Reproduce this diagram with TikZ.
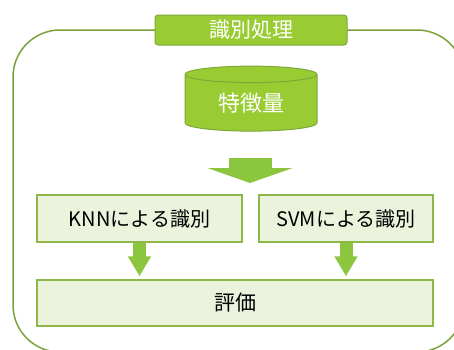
\documentclass[tikz,border=0pt]{standalone}
\usepackage{fontspec}
\setmainfont{Noto Sans CJK JP}
\usetikzlibrary{shapes.geometric,arrows.meta}

\definecolor{leafgreen}{HTML}{99CC33}
\definecolor{tabgreen}{HTML}{7DA83A}
\definecolor{framegreen}{HTML}{7AA23A}
\definecolor{boxgreen}{HTML}{8DB848}
\definecolor{paleleaf}{HTML}{EBF3DC}
\definecolor{arrowgreen}{HTML}{8CC63F}

\begin{document}
\begin{tikzpicture}[x=1pt,y=-1pt,
    frame/.style ={draw=framegreen, line width=1.5pt, rounded corners=47pt},
    titletab/.style ={draw=tabgreen, line width=1pt, fill=leafgreen,
      rounded corners=3pt, text=white, inner sep=0pt,
      minimum width=192pt, minimum height=30pt,
      font=\fontsize{21}{24}\selectfont},
    database/.style ={cylinder, shape border rotate=90, aspect=0.25,
      draw=tabgreen, line width=1pt, fill=leafgreen, text=white,
      inner sep=0pt, minimum width=132pt, minimum height=65pt,
      font=\fontsize{22}{25}\selectfont},
    method/.style ={draw=boxgreen, line width=1.5pt, fill=paleleaf,
      inner sep=0pt, minimum height=47pt,
      font=\fontsize{20}{23}\selectfont},
    bigarrow/.style ={draw=arrowgreen, line width=43pt,
      -{Triangle[width=85pt,length=15pt]}},
    smallarrow/.style ={draw=arrowgreen, line width=13pt,
      -{Triangle[width=22pt,length=20pt]}, shorten >=3pt}]
   \useasboundingbox (0,0) rectangle (454,349);

   % outer frame
   \draw[frame] (13,30) rectangle (464,352);
   \node[titletab] (T) at (251,30) {識別処理};

   \node[database] (F) at (251,103) {特徴量};

   \coordinate (S) at (250,158);
   \coordinate (E) at (250,183);
   \draw[bigarrow] (S) to (E);

   \node[method, minimum width=205pt] (K) at (139.5,218.5) {KNNによる識別};
   \node[method, minimum width=174pt] (V) at (346,218.5) {SVMによる識別};
   \node[method, minimum width=396pt, minimum height=46pt,
     font=\fontsize{21}{24}\selectfont] (R) at (235,303) {評価};

   \draw[smallarrow] (K.south) to (K.south |- R.north);
   \draw[smallarrow] (V.south) to (V.south |- R.north);
 \end{tikzpicture}
\end{document}
